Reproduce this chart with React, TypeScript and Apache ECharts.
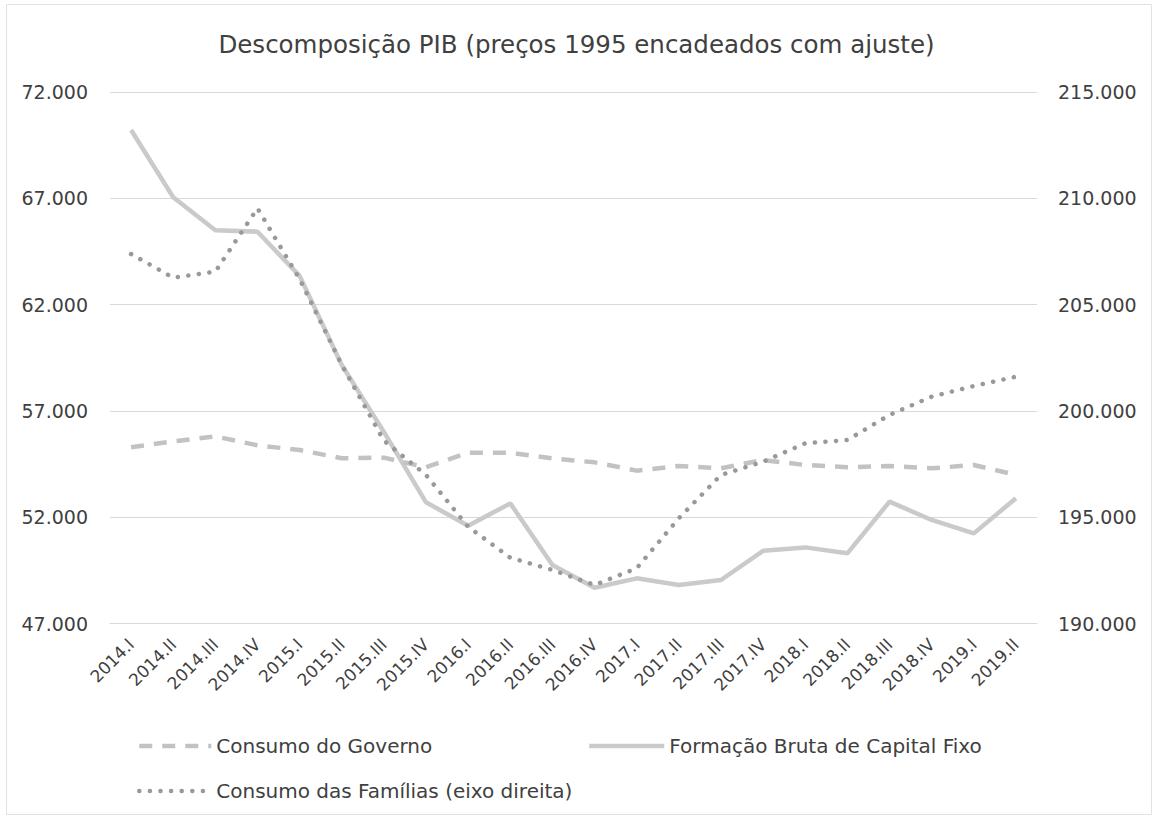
import React, { useEffect, useRef } from "react";
import * as echarts from "echarts";

const categories = [
  "2014.I", "2014.II", "2014.III", "2014.IV",
  "2015.I", "2015.II", "2015.III", "2015.IV",
  "2016.I", "2016.II", "2016.III", "2016.IV",
  "2017.I", "2017.II", "2017.III", "2017.IV",
  "2018.I", "2018.II", "2018.III", "2018.IV",
  "2019.I", "2019.II",
];

const consumoGoverno = [
  55290, 55570, 55800, 55380, 55160, 54770, 54800, 54350, 55030, 55030, 54770,
  54580, 54190, 54410, 54300, 54690, 54455, 54350, 54410, 54300, 54455, 53990,
];

const fbcf = [
  70210, 67050, 65500, 65430, 63350, 59160, 56010, 52700, 51600, 52650, 49750,
  48680, 49125, 48810, 49045, 50420, 50580, 50300, 52730, 51870, 51240, 52890,
];

const consumoFamilias = [
  207380, 206265, 206550, 209530, 206200, 202160, 198600, 196985, 194550,
  193095, 192520, 191810, 192600, 194950, 196985, 197610, 198475, 198630,
  199810, 200670, 201170, 201610,
];

const leftTicks = { min: 47000, max: 72000, interval: 5000 };
const rightTicks = { min: 190000, max: 215000, interval: 5000 };

const names = [
  "Consumo do Governo",
  "Formação Bruta de Capital Fixo",
  "Consumo das Famílias (eixo direita)",
];

const fmt = (v: number) => String(v).replace(/\B(?=(\d{3})+(?!\d))/g, ".");

const FONT = "DejaVu Sans";
const TEXT = "#404040";

const GOV_STYLE = { color: "#c2c2c2", width: 4.5, type: [13, 10] };
const FBCF_STYLE = { color: "#cacaca", width: 4.5, type: "solid" };
const FAM_STYLE = { color: "#999999", width: 4.5, type: [0.1, 10.5], cap: "round" };

export default function App() {
  const ref = useRef<HTMLDivElement>(null);
  useEffect(() => {
    if (!ref.current) return;
    const chart = echarts.init(ref.current, undefined, { renderer: "svg" });
    const legendText = { fontFamily: FONT, fontSize: 20, color: TEXT };
    const legendBase = {
      padding: 0,
      itemHeight: 14,
      itemGap: 0,
      textStyle: legendText,
      itemStyle: { opacity: 0 },
    };
    chart.setOption({
      animation: false,
      backgroundColor: "#ffffff",
      title: {
        text: "Descomposição PIB (preços 1995 encadeados com ajuste)",
        left: "center",
        top: 27,
        textStyle: { fontFamily: FONT, fontSize: 24.5, fontWeight: "normal", color: TEXT },
      },
      graphic: [
        {
          type: "rect",
          shape: { x: 6.5, y: 4.5, width: 1145, height: 810 },
          style: { fill: "none", stroke: "#e2e2e2", lineWidth: 1 },
          silent: true,
        },
      ],
      grid: { left: 110, right: 116, top: 92, bottom: 194.5, containLabel: false },
      legend: [
        {
          ...legendBase,
          data: [names[0]],
          left: 137,
          top: 736,
          itemWidth: 72,
          lineStyle: GOV_STYLE,
        },
        {
          ...legendBase,
          data: [names[1]],
          left: 587,
          top: 736,
          itemWidth: 75,
          lineStyle: FBCF_STYLE,
        },
        {
          ...legendBase,
          data: [names[2]],
          left: 137,
          top: 781,
          itemWidth: 72,
          lineStyle: FAM_STYLE,
        },
      ],
      xAxis: {
        type: "category",
        data: categories,
        boundaryGap: true,
        axisLine: { show: true, lineStyle: { color: "#d9d9d9", width: 1 } },
        axisTick: { show: false },
        axisLabel: {
          rotate: 45,
          interval: 0,
          margin: 18,
          fontFamily: FONT,
          fontSize: 17,
          color: TEXT,
        },
      },
      yAxis: [
        {
          type: "value",
          ...leftTicks,
          position: "left",
          axisLine: { show: false },
          axisTick: { show: false },
          splitLine: { lineStyle: { color: "#d9d9d9", width: 1 } },
          axisLabel: {
            margin: 22,
            fontFamily: FONT,
            fontSize: 19,
            color: TEXT,
            formatter: (v: number) => fmt(v),
          },
        },
        {
          type: "value",
          ...rightTicks,
          position: "right",
          axisLine: { show: false },
          axisTick: { show: false },
          splitLine: { show: false },
          axisLabel: {
            margin: 21,
            fontFamily: FONT,
            fontSize: 19,
            color: TEXT,
            formatter: (v: number) => fmt(v),
          },
        },
      ],
      series: [
        {
          name: names[0],
          type: "line",
          yAxisIndex: 0,
          data: consumoGoverno,
          symbol: "none",
          itemStyle: { color: GOV_STYLE.color },
          lineStyle: GOV_STYLE,
          z: 2,
        },
        {
          name: names[1],
          type: "line",
          yAxisIndex: 0,
          data: fbcf,
          symbol: "none",
          itemStyle: { color: FBCF_STYLE.color },
          lineStyle: FBCF_STYLE,
          z: 1,
        },
        {
          name: names[2],
          type: "line",
          yAxisIndex: 1,
          data: consumoFamilias,
          symbol: "none",
          itemStyle: { color: FAM_STYLE.color },
          lineStyle: FAM_STYLE,
          z: 3,
        },
      ],
    });
    return () => chart.dispose();
  }, []);
  return (
    <div
      ref={ref}
      style={{ position: "fixed", left: 0, top: 0, width: 1153, height: 818, background: "#fff" }}
    />
  );
}
